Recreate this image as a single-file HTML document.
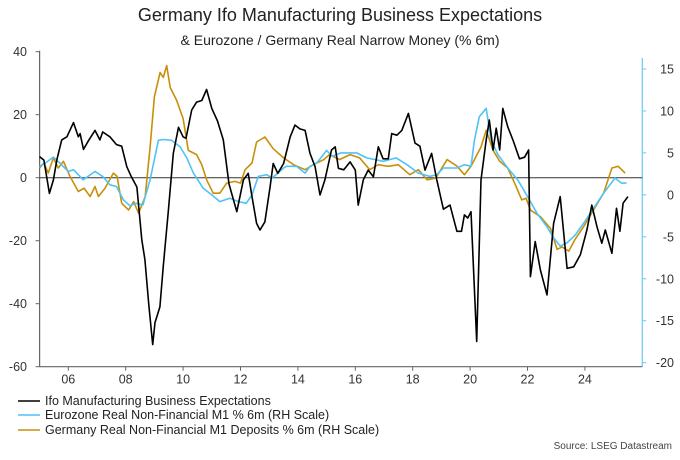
<!DOCTYPE html>
<html><head><meta charset="utf-8"><style>
body{margin:0;background:#fff;width:680px;height:455px;overflow:hidden;font-family:"Liberation Sans",sans-serif}
</style></head><body>
<svg id="chart" width="680" height="455" viewBox="0 0 680 455">
<text x="340" y="21" text-anchor="middle" font-size="18" fill="#222">Germany Ifo Manufacturing Business Expectations</text>
<text x="340" y="45" text-anchor="middle" font-size="14" fill="#222">&amp; Eurozone / Germany Real Narrow Money (% 6m)</text>
<g id="axes"></g>
<g id="series"></g>
<g>
<line x1="18" y1="401" x2="40" y2="401" stroke="#000" stroke-width="1.6"/>
<text x="45" y="405" font-size="12.5" fill="#222">Ifo Manufacturing Business Expectations</text>
<line x1="18" y1="415" x2="40" y2="415" stroke="#4fc3f7" stroke-width="1.6"/>
<text x="45" y="419" font-size="12.5" fill="#222">Eurozone Real Non-Financial M1 % 6m (RH Scale)</text>
<line x1="18" y1="430" x2="40" y2="430" stroke="#c8900a" stroke-width="1.6"/>
<text x="45" y="434" font-size="12.5" fill="#222">Germany Real Non-Financial M1 Deposits % 6m (RH Scale)</text>
</g>
<text x="672" y="449" text-anchor="end" font-size="10" fill="#444">Source: LSEG Datastream</text>
</svg>
<script>
const leftTicks=[40,20,0,-20,-40,-60];
const rightTicks=[15,10,5,0,-5,-10,-15,-20];
const xTickYears=[2006,2008,2010,2012,2014,2016,2018,2020,2022,2024];
const xTickLabels=["06","08","10","12","14","16","18","20","22","24"];
const ifoDates=[2005.0,2005.15,2005.34,2005.48,2005.6,2005.77,2005.95,2006.18,2006.35,2006.41,2006.53,2006.7,2006.93,2007.1,2007.2,2007.45,2007.68,2007.86,2008.04,2008.2,2008.39,2008.56,2008.67,2008.8,2008.94,2009.02,2009.19,2009.31,2009.48,2009.66,2009.84,2010.0,2010.1,2010.3,2010.47,2010.65,2010.82,2011.0,2011.2,2011.4,2011.6,2011.87,2012.1,2012.27,2012.4,2012.56,2012.68,2012.85,2013.03,2013.14,2013.3,2013.5,2013.73,2013.9,2014.07,2014.25,2014.42,2014.6,2014.77,2014.94,2015.17,2015.3,2015.41,2015.6,2015.82,2016.0,2016.1,2016.28,2016.45,2016.63,2016.8,2016.97,2017.15,2017.27,2017.45,2017.62,2017.85,2018.08,2018.25,2018.43,2018.66,2018.84,2019.07,2019.3,2019.54,2019.7,2019.8,2019.92,2020.03,2020.23,2020.38,2020.56,2020.67,2020.8,2020.91,2021.03,2021.14,2021.31,2021.49,2021.72,2021.9,2022.04,2022.1,2022.27,2022.45,2022.68,2022.91,2023.14,2023.38,2023.61,2023.84,2024.07,2024.24,2024.42,2024.59,2024.71,2024.94,2025.1,2025.22,2025.33,2025.5];
const ifoValues=[6.7,5.6,-5,-0.7,5.6,12,13,17.5,13,14,9,11.7,15,12,14.5,13,10.5,10,3.5,0.3,-3,-19.7,-26,-40,-53,-46,-41,-28,-11,7.7,16,13,12.5,21.5,24,24.5,28,22,18,12,-2,-10.8,-0.7,1.4,-6,-14.5,-16.6,-14,-2.9,4.5,1.4,4.5,13,16.7,15.5,15,7.7,3.5,-5.5,-0.7,8.8,9.8,3,2.5,5,2.4,-8.7,-0.7,2.4,0.3,9.8,6,6,14,13.5,15,20.4,11,10,2.4,7.7,-0.7,-10,-8.7,-17,-17,-11.8,-12.8,-10.8,-52,-0.7,12,18.3,8.8,15.7,8.8,22,16.2,12,6,6.5,8.8,-31.4,-20.3,-29.3,-37.2,-14.5,-6,-28.8,-28.3,-24.5,-16.6,-8.7,-15.6,-20.8,-16.6,-24,-9.7,-17,-8.1,-6];
const ezDates=[2005.0,2005.2,2005.48,2005.7,2006.0,2006.18,2006.52,2006.93,2007.2,2007.45,2007.68,2007.92,2008.15,2008.35,2008.6,2008.85,2009.14,2009.31,2009.6,2009.9,2010.13,2010.36,2010.7,2011.0,2011.28,2011.63,2011.93,2012.2,2012.4,2012.62,2012.91,2013.1,2013.5,2013.6,2013.95,2014.25,2014.42,2014.66,2015.0,2015.2,2015.5,2015.82,2016.05,2016.4,2016.97,2017.43,2017.8,2018.2,2018.6,2018.84,2019.07,2019.54,2019.8,2020.03,2020.15,2020.32,2020.56,2020.73,2020.97,2021.31,2021.66,2022.0,2022.33,2022.68,2022.91,2023.14,2023.38,2023.66,2023.95,2024.3,2024.65,2025.05,2025.28,2025.45];
const ezValues=[3.4,3.8,4.5,3.8,2.8,3,1.8,2.8,2.2,1.2,1,-0.6,-1.3,-1,-1.2,1.8,6.5,6.6,6.5,5.7,4.4,2.6,0.8,0,-0.8,-0.4,-0.8,-1,0,2.2,2.4,2,3.2,3.4,3.4,2.6,3.4,3.8,5.3,4.6,5,5,5,4.4,4,4.4,3.6,2.6,2.2,2.4,3.2,3.2,3.6,3.4,6.5,9.3,10.3,6.5,4.8,3.2,1.8,-0.2,-2.2,-3.8,-5.1,-6.1,-5.7,-4.8,-3.4,-1.6,0.2,2,1.4,1.4];
const deDates=[2005.0,2005.15,2005.3,2005.48,2005.65,2005.83,2006.06,2006.35,2006.55,2006.76,2006.93,2007.05,2007.28,2007.57,2007.7,2007.86,2008.1,2008.28,2008.45,2008.68,2008.85,2009.0,2009.2,2009.31,2009.43,2009.55,2009.77,2010.0,2010.18,2010.47,2010.65,2010.82,2011.05,2011.28,2011.52,2011.8,2012.0,2012.16,2012.4,2012.56,2012.85,2013.14,2013.5,2013.85,2014.25,2014.54,2014.9,2015.1,2015.45,2015.82,2016.15,2016.5,2016.8,2017.15,2017.5,2017.9,2018.2,2018.5,2018.8,2019.2,2019.55,2019.8,2020.03,2020.38,2020.56,2020.8,2021.03,2021.31,2021.55,2021.8,2021.95,2022.1,2022.45,2022.8,2023.03,2023.2,2023.44,2023.66,2023.95,2024.3,2024.65,2024.94,2025.16,2025.4];
const deValues=[3.2,3.8,2.6,4.4,3.2,4,2.2,0.4,0.8,-0.2,1,-0.2,0.8,2.6,2.2,-1,-1.8,-0.8,-2.2,-0.2,5.7,11.7,14.6,14,15.4,12.8,11.3,9.1,5.3,4.8,3.6,1.8,0.2,0.2,1.4,1.6,1.4,3,3.8,6.3,6.9,5.5,4.4,3.6,3,3.6,4.2,4.8,4.2,4.8,4.4,3,3.6,3.4,3.6,2.4,3,1.8,2,4.2,3.4,2.4,3.4,5.7,7.7,5.3,4,3.2,1.4,-0.6,-0.4,-1.8,-2.6,-4,-6.5,-6.2,-6.7,-5.3,-3.8,-1.8,0.2,3.2,3.4,2.6];

const NS="http://www.w3.org/2000/svg";
const X0=39.6,X1=642.3,T0=2005,T1=2026;
const yL0=51.7,yL1=366.7,L0=40,L1=-60;
const yR0=69,yR1=362.7,R0=15,R1=-20;
const xs=t=>X0+(t-T0)/(T1-T0)*(X1-X0);
const yl=v=>yL0+(L0-v)/(L0-L1)*(yL1-yL0);
const yr=v=>yR0+(R0-v)/(R0-R1)*(yR1-yR0);
function mk(tag,attrs,parent){const e=document.createElementNS(NS,tag);for(const k in attrs)e.setAttribute(k,attrs[k]);parent.appendChild(e);return e;}
const ax=document.getElementById('axes'),sr=document.getElementById('series');
let e;
e=mk('line',{x1:X0,y1:yL0-1,x2:X0,y2:yL1,stroke:'#666','stroke-width':1.2},ax);


e=mk('line',{x1:X1,y1:58,x2:X1,y2:yL1,stroke:'#6cc8f5','stroke-width':1.2},ax);


e=mk('line',{x1:X0,y1:yL1,x2:X1,y2:yL1,stroke:'#666','stroke-width':1.2},ax);


e=mk('line',{x1:X0,y1:yl(0),x2:X1,y2:yl(0),stroke:'#333','stroke-width':1},ax);


leftTicks.forEach(v=>{
  mk('line',{x1:X0-4,y1:yl(v),x2:X0,y2:yl(v),stroke:'#666'},ax);
  const t=mk('text',{x:27,y:yl(v)+4.5,'text-anchor':'end','font-size':12.5,fill:'#333'},ax);
  t.textContent=v;
  
  
});
rightTicks.forEach(v=>{
  mk('line',{x1:X1,y1:yr(v),x2:X1+4,y2:yr(v),stroke:'#6cc8f5'},ax);
  const t=mk('text',{x:674,y:yr(v)+4.5,'text-anchor':'end','font-size':12.5,fill:'#333'},ax);
  t.textContent=v;
  
  
});
xTickYears.forEach((yv,i)=>{
  mk('line',{x1:xs(yv),y1:yL1,x2:xs(yv),y2:yL1+4,stroke:'#666'},ax);
  const t=mk('text',{x:xs(yv),y:yL1+17,'text-anchor':'middle','font-size':12.5,fill:'#333'},ax);
  t.textContent=xTickLabels[i];
  
  
});
function line(d,v,f,color,name){
  const p=mk('path',{d:d.map((t,i)=>(i?'L':'M')+xs(t).toFixed(1)+','+f(v[i]).toFixed(1)).join(''),fill:'none',stroke:color,'stroke-width':1.6,'stroke-linejoin':'round'},sr);
  
  
}
line(deDates,deValues,yr,'#c8900a','germany-m1-line');
line(ezDates,ezValues,yr,'#4fc3f7','eurozone-m1-line');
line(ifoDates,ifoValues,yl,'#000','ifo-line');
</script>
</body></html>
